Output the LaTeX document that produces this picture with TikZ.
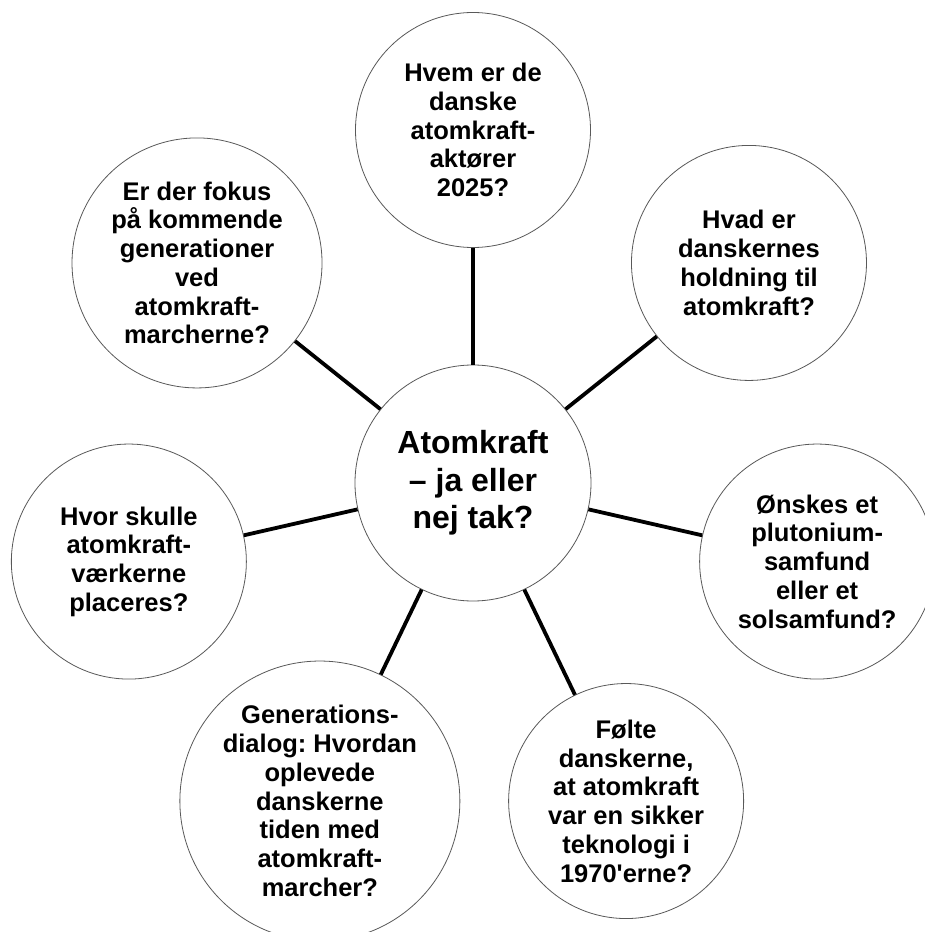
\documentclass[tikz,border=0pt]{standalone}
\usepackage{fontspec}
\setmainfont{Liberation Sans}[Ligatures=TeXOff]
\frenchspacing

\begin{document}
\begin{tikzpicture}[
            x=1pt, y=1pt,
            topic/.style={circle, draw=black!65, line width=0.8pt, fill=white, inner sep=0pt,
                minimum size=235pt, align=center, font=\fontsize{25.5}{28.75}\selectfont\bfseries},
            hub/.style={topic, minimum size=236pt, font=\fontsize{32}{37.5}\selectfont\bfseries},
            spoke/.style={line width=3.8pt},
        ]
            \path[use as bounding box, fill=white] (-473,-449) rectangle (452,483);

            \node[hub] (hub) at (0,0) {Atomkraft\\– ja eller\\nej tak?};

            \node[topic] (aktoerer) at (90:353) {Hvem er de\\danske\\atomkraft-\\aktører\\2025?};
            \node[topic] (holdning) at (38.57:353) {Hvad er\\danskernes\\holdning til\\atomkraft?};
            \node[topic] (samfund) at (-12.86:353) {Ønskes et\\plutonium-\\samfund\\eller et\\solsamfund?};
            \node[topic] (sikker) at (-64.29:353) {Følte\\danskerne,\\at atomkraft\\var en sikker\\teknologi i\\1970'erne?};
            \node[topic, minimum size=280pt] (dialog) at (-115.71:353) {Generations-\\dialog: Hvordan\\oplevede\\danskerne\\tiden med\\atomkraft-\\marcher?};
            \node[topic] (placering) at (-167.14:353) {Hvor skulle\\atomkraft-\\værkerne\\placeres?};
            \node[topic, minimum size=250pt] (fokus) at (141.43:353) {Er der fokus\\på kommende\\generationer\\ved\\atomkraft-\\marcherne?};

            \draw[spoke] (hub) -- (aktoerer);
            \draw[spoke] (hub) -- (holdning);
            \draw[spoke] (hub) -- (samfund);
            \draw[spoke] (hub) -- (sikker);
            \draw[spoke] (hub) -- (dialog);
            \draw[spoke] (hub) -- (placering);
            \draw[spoke] (hub) -- (fokus);
        \end{tikzpicture}
\end{document}
